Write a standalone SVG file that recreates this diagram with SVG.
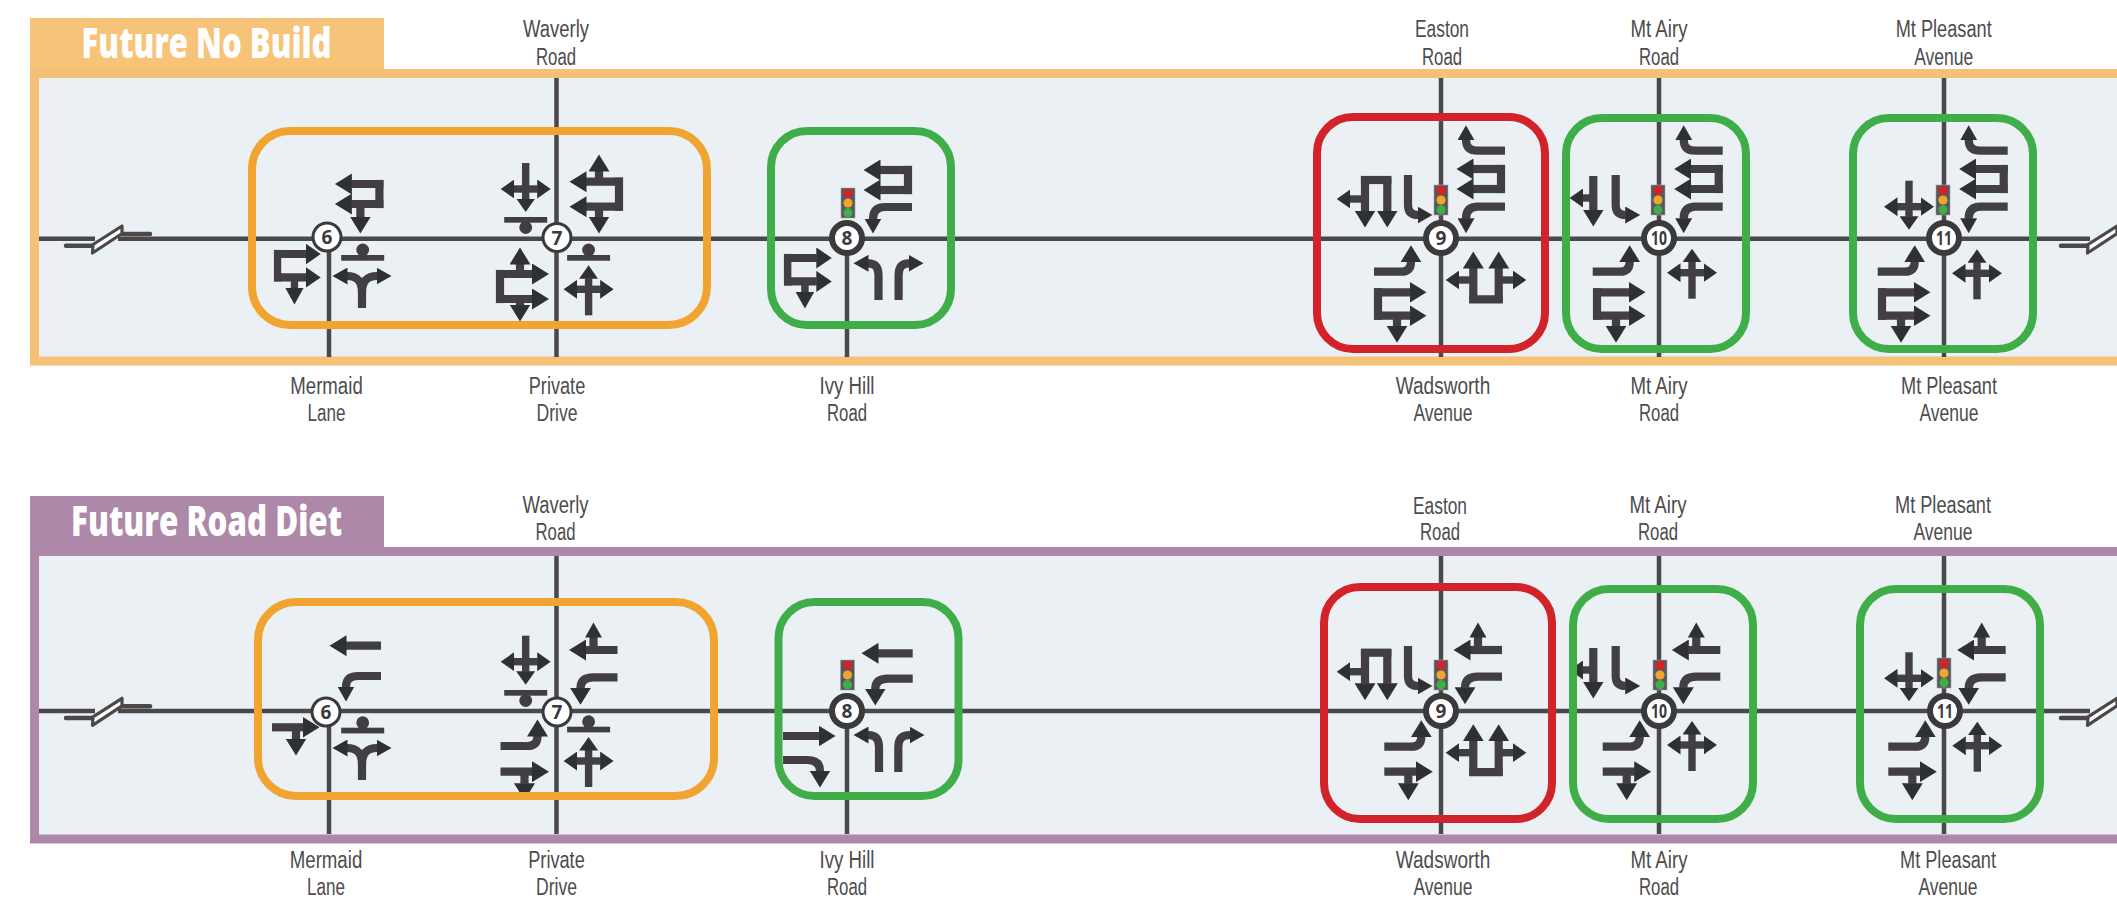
<svg xmlns="http://www.w3.org/2000/svg" width="2117" height="900" viewBox="0 0 2117 900">
<style>
.lbl{font-family:"Liberation Sans",Arial,sans-serif;font-size:23px;fill:#4d4c4e;text-anchor:middle}
.hdr{font-family:"Open Sans","Liberation Sans",sans-serif;font-size:42px;font-weight:800;fill:#fff;text-anchor:middle}
.num{font-family:"Open Sans","Liberation Sans",sans-serif;font-size:19px;font-weight:700;fill:#3a393b;text-anchor:middle}
.a,.s,.c,.n{fill:none;stroke:#413f41}
.a{stroke-width:8.2;marker-end:url(#h)}
.s{stroke-width:8.2;marker-end:url(#sm)}
.c{stroke-width:7.4;marker-end:url(#m)}
.n{stroke-width:8.2}
.road{stroke:#4b4849;stroke-width:4.5;fill:none}
.stub{stroke:#4b4849;stroke-width:4.5;fill:none;stroke-linecap:round}
.slash{fill:#fff;stroke:#4b4849;stroke-width:3.2;stroke-linejoin:round}
.box{fill:none;stroke-width:8}
.org{stroke:#f2a431}.grn{stroke:#3fae49}.red{stroke:#d2232a}
.c1{fill:#fff;stroke:#3a393b;stroke-width:3}
.c2{fill:#fff;stroke:#3a393b;stroke-width:6}
.panel{fill:#eaf0f3;stroke-width:9}
.bar{fill:#403e40}
</style>
<defs>
<marker id="h" markerUnits="userSpaceOnUse" markerWidth="18" markerHeight="21" refX="0.5" refY="10.5" orient="auto"><path d="M0 0L17 10.5L0 21z" fill="#2f3031"/></marker>
<marker id="sm" markerUnits="userSpaceOnUse" markerWidth="16" markerHeight="17" refX="0.5" refY="8.5" orient="auto"><path d="M0 0L15 8.5L0 17z" fill="#2f3031"/></marker>
<marker id="m" markerUnits="userSpaceOnUse" markerWidth="14" markerHeight="19" refX="0.5" refY="9.5" orient="auto"><path d="M0 0L13.5 9.5L0 19z" fill="#2f3031"/></marker>
<g id="ebBox"><path class="a" d="M0 0H36"/><path class="a" d="M0 23.4H36"/><path class="n" d="M4 -4.1V27.5"/><path class="a" d="M23 23.4V34"/></g>
<g id="wbBox"><path class="a" d="M0 0H-32"/><path class="a" d="M0 20H-32"/><path class="n" d="M-4 -4.1V24.1"/></g>
<g id="wbStack"><path class="s" d="M0 0H-27Q-39 0 -39 -11"/><use href="#wbBox" y="18.3"/><path class="s" d="M0 56H-27Q-39 56 -39 68"/></g>
<g id="wbUp"><path class="a" d="M0 0H-32"/><path class="s" d="M-24 0V-13"/></g>
<g id="wbDn"><path class="a" d="M0 0H-24Q-37 0 -37 11"/></g>
<g id="ebUp"><path class="a" d="M0 0H27Q37 0 37 -10"/></g>
<g id="ebDn"><path class="a" d="M0 0H32"/><path class="a" d="M24 0V12"/></g>
<g id="crossUp"><path class="c" d="M0 26V-11"/><path class="c" d="M0 0H-12"/><path class="c" d="M0 0H12"/></g>
<g id="crossDn"><path class="c" d="M0 -26V10"/><path class="c" d="M0 0H-12"/><path class="c" d="M0 0H12"/></g>
<g id="fork"><path class="n" d="M0 32V14"/><path class="s" d="M0 16Q0 0 -15 0"/><path class="s" d="M0 16Q0 0 15 0"/></g>
<g id="uTurn"><path class="a" d="M0 23V-12"/><path class="a" d="M25.4 23V-12"/><path class="n" d="M-4.1 19.4H29.5"/><path class="c" d="M0 0H-14.6"/><path class="c" d="M25.4 0H40"/></g>
<g id="pi"><path class="a" d="M0 -22V12"/><path class="a" d="M22.3 -22V12"/><path class="n" d="M-4.1 -19H26.4"/><path class="c" d="M0 0H-15.3"/></g>
<g id="single"><path class="a" d="M0 -22V12"/><path class="c" d="M0 0H-10.7"/></g>
<g id="rTurn"><path class="s" d="M0 0V30Q0 40 10 40"/></g>
<g id="barBelow"><rect class="bar" x="-21.5" y="0" width="43" height="5.7"/><circle class="bar" cx="0" cy="10.5" r="6.4"/></g>
<g id="barAbove"><rect class="bar" x="-21.5" y="0" width="43" height="5.7"/><circle class="bar" cx="0" cy="-5" r="6.4"/></g>
<g id="sig"><rect x="-7" y="0" width="14" height="30" fill="#58585a" stroke="#a5a6a8" stroke-width=".6"/><circle cx="0" cy="5.3" r="4.6" fill="#d2232a"/><circle cx="0" cy="15" r="4.6" fill="#f2a431"/><circle cx="0" cy="24.7" r="4.6" fill="#3fae49"/></g>
<g id="brkL"><path class="stub" d="M66 7H92"/><path class="stub" d="M120 -4.7H150"/><path class="slash" d="M93 5.8L122 -12.7V-5.2L92.5 14.3z"/></g>
<g id="brkR"><path class="stub" d="M2061 7H2088"/><path class="slash" d="M2088 5.8L2117 -12.7V-5.2L2087.5 14.3z"/></g>
</defs>

<g id="panel-no-build">
<rect x="30" y="18" width="354" height="51" fill="#f6c378"/>
<rect class="panel" x="34.5" y="73.5" width="2200" height="287.5" stroke="#f5c176"/>
<text class="hdr" x="206.6" y="58" textLength="250" lengthAdjust="spacingAndGlyphs">Future No Build</text>
</g>
<g id="panel-road-diet">
<rect x="30" y="496" width="354" height="51" fill="#ae88a9"/>
<rect class="panel" x="34.5" y="551.5" width="2200" height="287.5" stroke="#ae88a9"/>
<text class="hdr" x="206.6" y="536" textLength="271" lengthAdjust="spacingAndGlyphs">Future Road Diet</text>
</g>

<g id="connectors">
<path class="road" d="M39 238.7H95M118 238.7H2090"/>
<path class="road" d="M329 238.7V357M556.5 78V357M847 238.7V357M1441 78V357M1659 78V357M1944 78V357"/>
<use href="#brkL" y="238.7"/><use href="#brkR" y="238.7"/>
<path class="road" d="M39 711H95M118 711H2090"/>
<path class="road" d="M329 711V834M556.5 556V834M847 711V834M1441 556V834M1659 556V834M1944 556V834"/>
<use href="#brkL" y="711"/><use href="#brkR" y="711"/>
</g>

<g id="t-6">
<use href="#wbBox" x="383.4" y="184"/><path class="a" d="M360.4 203.3V217"/>
<g transform="translate(274 254) scale(.89 1)"><use href="#ebBox"/></g>
<use href="#barAbove" x="362.7" y="255"/><use href="#fork" x="362" y="276"/>
<circle class="c1" cx="327" cy="237" r="14"/><text class="num" x="327" y="244">6</text>
</g>
<g id="t-7">
<use href="#crossDn" x="525.7" y="189"/><use href="#barBelow" x="525.7" y="217"/>
<path class="a" d="M623 181.7H586"/><path class="a" d="M623 206.7H586"/><path class="n" d="M619 177.6V210.8"/>
<path class="a" d="M599 181.7V171"/><path class="a" d="M599 206.7V217"/>
<path class="a" d="M496 274H532.5"/><path class="a" d="M496 299H532.5"/><path class="n" d="M500 269.9V303.1"/>
<path class="a" d="M520 274V264"/><path class="a" d="M520 299V305"/>
<use href="#barAbove" x="588.6" y="255"/><use href="#crossUp" x="588.6" y="289.3"/>
<circle class="c1" cx="557" cy="237.5" r="14"/><text class="num" x="557" y="244.5">7</text>
</g>
<g id="t-8">
<path class="a" d="M912 170H880"/><path class="a" d="M912 190H880"/><path class="n" d="M908 165.9V194.1"/>
<path class="s" d="M912 207H885Q873 207 873 219"/>
<g transform="translate(784 258) scale(.91 1)"><use href="#ebBox"/></g>
<path class="s" d="M878.5 300V275Q878.5 263.3 868 263.3"/><path class="s" d="M898.6 300V275Q898.6 263.3 909 263.3"/>
<use href="#sig" x="848" y="188"/>
<circle class="c2" cx="847" cy="238" r="15"/><text class="num" x="847" y="245">8</text>
</g>
<g id="t-9">
<use href="#pi" x="1365" y="199"/><use href="#rTurn" x="1408" y="175"/>
<use href="#wbStack" x="1505" y="150.7"/><use href="#ebUp" x="1374" y="271.7"/><use href="#ebBox" x="1374" y="292.3"/>
<use href="#uTurn" x="1473.3" y="280"/>
<use href="#sig" x="1441" y="185"/>
<circle class="c2" cx="1441" cy="238" r="15"/><text class="num" x="1441" y="245">9</text>
</g>
<g id="t-10">
<use href="#single" x="1593.3" y="198"/><use href="#rTurn" x="1615.7" y="175"/>
<use href="#wbStack" x="1722.7" y="150.7"/><use href="#ebUp" x="1592.7" y="271.7"/><use href="#ebBox" x="1593" y="292.3"/>
<use href="#crossUp" x="1692" y="272.7"/>
<use href="#sig" x="1658" y="185"/>
<circle class="c2" cx="1659" cy="238" r="15"/><text class="num" x="1659" y="245" textLength="16" lengthAdjust="spacingAndGlyphs">10</text>
</g>
<g id="t-11">
<use href="#crossDn" x="1909" y="206.7"/>
<use href="#wbStack" x="2007.7" y="150.7"/><use href="#ebUp" x="1877.7" y="271.7"/><use href="#ebBox" x="1878" y="292.3"/>
<use href="#crossUp" x="1977" y="273.3"/>
<use href="#sig" x="1943" y="185"/>
<circle class="c2" cx="1944" cy="238" r="15"/><text class="num" x="1944" y="245" textLength="16" lengthAdjust="spacingAndGlyphs">11</text>
</g>

<g id="b-6">
<path class="a" d="M381 645.7H346"/>
<path class="s" d="M381 676H358Q346 676 346 687"/>
<path class="a" d="M272 727.3H303"/><path class="a" d="M296 727.3V739"/>
<use href="#barAbove" x="362.7" y="727.7"/><use href="#fork" x="362" y="748"/>
<circle class="c1" cx="326" cy="712" r="14"/><text class="num" x="326" y="719">6</text>
</g>
<g id="b-7">
<use href="#crossDn" x="525.7" y="661.7"/><use href="#barBelow" x="525.7" y="690"/>
<use href="#wbUp" x="617.5" y="650"/><use href="#wbDn" x="617.5" y="677.3"/>
<use href="#ebUp" x="500.5" y="746"/><use href="#ebDn" x="500.5" y="771.7"/>
<use href="#barAbove" x="588.6" y="726.7"/><use href="#crossUp" x="588.6" y="761"/>
<circle class="c1" cx="557" cy="712" r="14"/><text class="num" x="557" y="719">7</text>
</g>
<g id="b-8">
<path class="a" d="M912.7 653.3H878"/>
<path class="a" d="M912.7 678.7H888Q875.3 678.7 875.3 689"/>
<path class="a" d="M783 736H819"/>
<path class="a" d="M783 760H807Q820 760 820 771"/>
<path class="s" d="M879 772V747Q879 735 868 735"/><path class="s" d="M898.3 772V747Q898.3 735 910 735"/>
<use href="#sig" x="847.5" y="660"/>
<circle class="c2" cx="847" cy="711" r="15"/><text class="num" x="847" y="718">8</text>
</g>
<g id="b-9">
<use href="#pi" x="1365" y="671.7"/><use href="#rTurn" x="1408" y="646"/>
<use href="#wbUp" x="1502" y="650"/><use href="#wbDn" x="1502" y="676.7"/>
<use href="#ebUp" x="1384.3" y="746.7"/><use href="#ebDn" x="1384.3" y="771.7"/>
<use href="#uTurn" x="1473.3" y="752.7"/>
<use href="#sig" x="1441" y="660"/>
<circle class="c2" cx="1441" cy="711" r="15"/><text class="num" x="1441" y="718">9</text>
</g>
<g id="b-10">
<use href="#single" x="1593.3" y="670"/><use href="#rTurn" x="1615.7" y="646"/>
<use href="#wbUp" x="1720.3" y="650"/><use href="#wbDn" x="1720.3" y="676.7"/>
<use href="#ebUp" x="1602.7" y="746.7"/><use href="#ebDn" x="1602.7" y="771.7"/>
<use href="#crossUp" x="1692" y="745"/>
<use href="#sig" x="1660" y="660"/>
<circle class="c2" cx="1659" cy="711" r="15"/><text class="num" x="1659" y="718" textLength="16" lengthAdjust="spacingAndGlyphs">10</text>
</g>
<g id="b-11">
<use href="#crossDn" x="1909" y="678.3"/>
<use href="#wbUp" x="2005.7" y="650"/><use href="#wbDn" x="2005.7" y="677.3"/>
<use href="#ebUp" x="1888.3" y="746.7"/><use href="#ebDn" x="1888.3" y="771.7"/>
<use href="#crossUp" x="1977.3" y="745.7"/>
<use href="#sig" x="1944" y="658"/>
<circle class="c2" cx="1945" cy="711" r="15"/><text class="num" x="1945" y="718" textLength="16" lengthAdjust="spacingAndGlyphs">11</text>
</g>

<g id="rating-boxes">
<rect class="box org" x="252" y="131" width="455" height="194" rx="38"/>
<rect class="box grn" x="771" y="131" width="180" height="194" rx="36"/>
<rect class="box red" x="1317" y="117" width="228" height="232" rx="36"/>
<rect class="box grn" x="1566" y="118" width="180" height="231" rx="36"/>
<rect class="box grn" x="1853" y="118" width="180" height="231" rx="36"/>
<rect class="box org" x="258" y="602" width="456" height="194" rx="38"/>
<rect class="box grn" x="778.5" y="602" width="180" height="194" rx="36"/>
<rect class="box red" x="1324" y="587" width="228" height="232" rx="36"/>
<rect class="box grn" x="1573" y="589" width="180" height="230" rx="36"/>
<rect class="box grn" x="1860" y="589" width="180" height="230" rx="36"/>
</g>

<g id="labels">
<text class="lbl" x="556" y="37" textLength="66" lengthAdjust="spacingAndGlyphs">Waverly</text><text class="lbl" x="556" y="64.5" textLength="40" lengthAdjust="spacingAndGlyphs">Road</text>
<text class="lbl" x="1442" y="37" textLength="54" lengthAdjust="spacingAndGlyphs">Easton</text><text class="lbl" x="1442" y="64.5" textLength="40" lengthAdjust="spacingAndGlyphs">Road</text>
<text class="lbl" x="1659" y="37" textLength="57" lengthAdjust="spacingAndGlyphs">Mt Airy</text><text class="lbl" x="1659" y="64.5" textLength="40" lengthAdjust="spacingAndGlyphs">Road</text>
<text class="lbl" x="1943.7" y="37" textLength="96" lengthAdjust="spacingAndGlyphs">Mt Pleasant</text><text class="lbl" x="1943.7" y="64.5" textLength="59" lengthAdjust="spacingAndGlyphs">Avenue</text>
<text class="lbl" x="326.5" y="394" textLength="72.5" lengthAdjust="spacingAndGlyphs">Mermaid</text><text class="lbl" x="326.5" y="420.5" textLength="38" lengthAdjust="spacingAndGlyphs">Lane</text>
<text class="lbl" x="557" y="394" textLength="56.5" lengthAdjust="spacingAndGlyphs">Private</text><text class="lbl" x="557" y="420.5" textLength="41" lengthAdjust="spacingAndGlyphs">Drive</text>
<text class="lbl" x="847" y="394" textLength="55" lengthAdjust="spacingAndGlyphs">Ivy Hill</text><text class="lbl" x="847" y="420.5" textLength="40" lengthAdjust="spacingAndGlyphs">Road</text>
<text class="lbl" x="1443" y="394" textLength="94.5" lengthAdjust="spacingAndGlyphs">Wadsworth</text><text class="lbl" x="1443" y="420.5" textLength="59" lengthAdjust="spacingAndGlyphs">Avenue</text>
<text class="lbl" x="1659" y="394" textLength="57" lengthAdjust="spacingAndGlyphs">Mt Airy</text><text class="lbl" x="1659" y="420.5" textLength="40" lengthAdjust="spacingAndGlyphs">Road</text>
<text class="lbl" x="1949" y="394" textLength="96" lengthAdjust="spacingAndGlyphs">Mt Pleasant</text><text class="lbl" x="1949" y="420.5" textLength="59" lengthAdjust="spacingAndGlyphs">Avenue</text>

<text class="lbl" x="555.5" y="512.7" textLength="66" lengthAdjust="spacingAndGlyphs">Waverly</text><text class="lbl" x="555.5" y="540" textLength="40" lengthAdjust="spacingAndGlyphs">Road</text>
<text class="lbl" x="1440" y="513.5" textLength="54" lengthAdjust="spacingAndGlyphs">Easton</text><text class="lbl" x="1440" y="540" textLength="40" lengthAdjust="spacingAndGlyphs">Road</text>
<text class="lbl" x="1658" y="512.7" textLength="57" lengthAdjust="spacingAndGlyphs">Mt Airy</text><text class="lbl" x="1658" y="540" textLength="40" lengthAdjust="spacingAndGlyphs">Road</text>
<text class="lbl" x="1943" y="512.7" textLength="96" lengthAdjust="spacingAndGlyphs">Mt Pleasant</text><text class="lbl" x="1943" y="540" textLength="59" lengthAdjust="spacingAndGlyphs">Avenue</text>
<text class="lbl" x="326" y="868" textLength="72.5" lengthAdjust="spacingAndGlyphs">Mermaid</text><text class="lbl" x="326" y="895" textLength="38" lengthAdjust="spacingAndGlyphs">Lane</text>
<text class="lbl" x="556.5" y="868" textLength="56.5" lengthAdjust="spacingAndGlyphs">Private</text><text class="lbl" x="556.5" y="895" textLength="41" lengthAdjust="spacingAndGlyphs">Drive</text>
<text class="lbl" x="847" y="868" textLength="55" lengthAdjust="spacingAndGlyphs">Ivy Hill</text><text class="lbl" x="847" y="895" textLength="40" lengthAdjust="spacingAndGlyphs">Road</text>
<text class="lbl" x="1443" y="868" textLength="94.5" lengthAdjust="spacingAndGlyphs">Wadsworth</text><text class="lbl" x="1443" y="895" textLength="59" lengthAdjust="spacingAndGlyphs">Avenue</text>
<text class="lbl" x="1659" y="868" textLength="57" lengthAdjust="spacingAndGlyphs">Mt Airy</text><text class="lbl" x="1659" y="895" textLength="40" lengthAdjust="spacingAndGlyphs">Road</text>
<text class="lbl" x="1948" y="868" textLength="96" lengthAdjust="spacingAndGlyphs">Mt Pleasant</text><text class="lbl" x="1948" y="895" textLength="59" lengthAdjust="spacingAndGlyphs">Avenue</text>
</g>
</svg>
